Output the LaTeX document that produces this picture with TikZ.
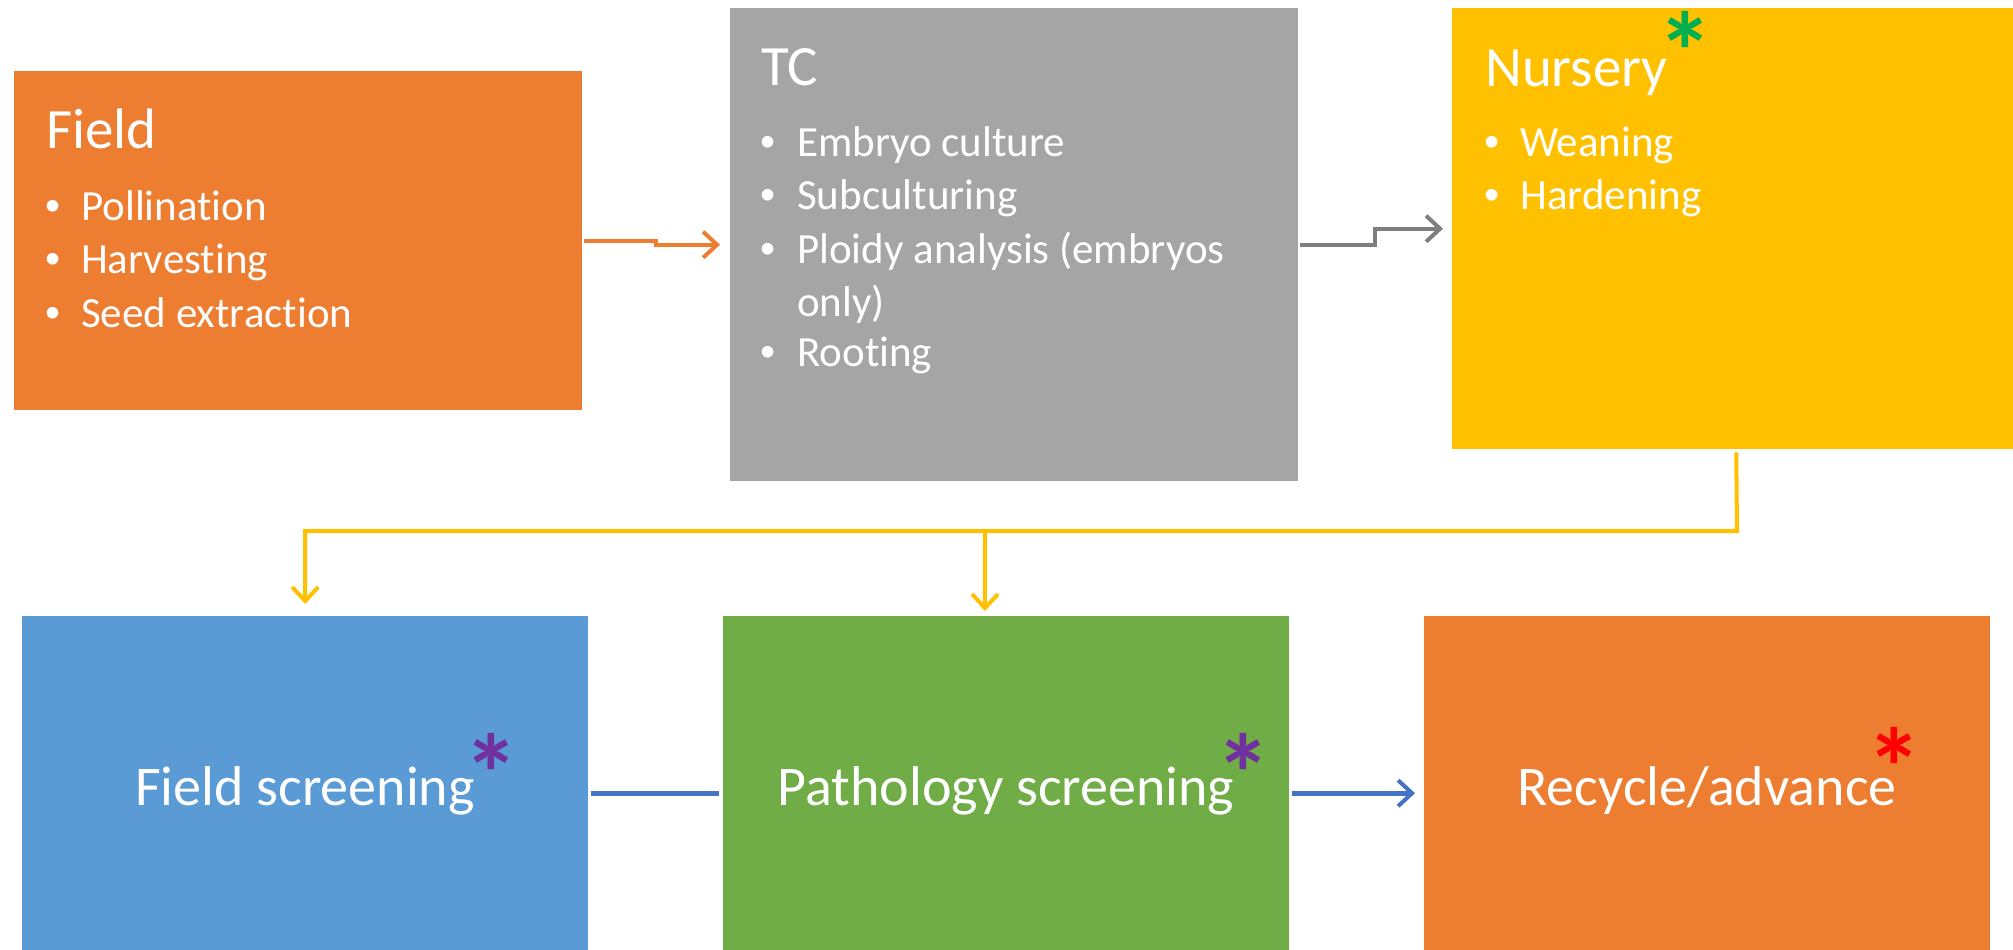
\documentclass[tikz,border=0pt]{standalone}
\usepackage{fontspec}
\setmainfont{Carlito}[Ligatures=NoCommon]
\newfontfamily\bulletfont{Liberation Sans}
\usetikzlibrary{arrows.meta,calc}
\definecolor{cOrange}{HTML}{ED7D31}
\definecolor{cGray}{HTML}{A5A5A5}
\definecolor{cGold}{HTML}{FFC000}
\definecolor{cBlue}{HTML}{5B9BD5}
\definecolor{cGreen}{HTML}{70AD47}
\definecolor{cDarkGray}{HTML}{7F7F7F}
\definecolor{cLineBlue}{HTML}{4472C4}
\definecolor{cStarGreen}{HTML}{00B050}
\definecolor{cStarPurple}{HTML}{7030A0}
\definecolor{cStarRed}{HTML}{FF0000}
\tikzset{
  box/.style={draw=none, anchor=north west, inner sep=0pt},
  title/.style={anchor=base west, inner sep=0pt, text=white, font=\fontsize{57}{68}\selectfont},
  item/.style={anchor=base west, inner sep=0pt, text=white, font=\fontsize{43}{52}\selectfont},
  bul/.style={anchor=base west, inner sep=0pt, text=white, font=\bulletfont\fontsize{43}{52}\selectfont},
  bigtext/.style={anchor=center, inner sep=0pt, text=white, font=\fontsize{56}{68}\selectfont},
  star/.style={anchor=center, inner sep=0pt, font=\bfseries\fontsize{112}{112}\selectfont},
  conn/.style={line width=4pt, -{Straight Barb[length=14pt,width=26pt,line width=4pt]}},
}
\begin{document}
\begin{tikzpicture}[x=1pt,y=-1pt]
\useasboundingbox (0,0) rectangle (2013,950);
% boxes
\node[box, fill=cOrange, minimum width=568pt, minimum height=339pt] (field) at (14,71) {};
\node[box, fill=cGray, minimum width=568pt, minimum height=473pt] (tc) at (730,8) {};
\node[box, fill=cGold, minimum width=568pt, minimum height=441pt] (nursery) at (1452,8) {};
\node[box, fill=cBlue, minimum width=566pt, minimum height=354pt] (fs) at (22,616) {};
\node[box, fill=cGreen, minimum width=566pt, minimum height=354pt] (path) at (723,616) {};
\node[box, fill=cOrange, minimum width=566pt, minimum height=354pt] (recycle) at (1424,616) {};
% Field text
\node[title] (fieldT) at (46,148) {Field};
\node[bul] (fb1) at (45,220) {•};
\node[item] (fi1) at (81,220) {Pollination};
\node[bul] (fb2) at (45,273) {•};
\node[item] (fi2) at (81,273) {Harvesting};
\node[bul] (fb3) at (45,327) {•};
\node[item] (fi3) at (81,327) {Seed extraction};
% TC text
\node[title] (tcT) at (761,85) {TC};
\node[bul] (tb1) at (760,156) {•};
\node[item] (ti1) at (797,156) {Embryo culture};
\node[bul] (tb2) at (760,209) {•};
\node[item] (ti2) at (797,209) {Subculturing};
\node[bul] (tb3) at (760,263) {•};
\node[item] (ti3) at (797,263) {Ploidy analysis (embryos};
\node[item] (ti3b) at (797,316) {only)};
\node[bul] (tb4) at (760,366) {•};
\node[item] (ti4) at (797,366) {Rooting};
% Nursery text
\node[title] (nT) at (1485,86) {Nursery};
\node[star, text=cStarGreen] (nS) at (1685,51) {*};
\node[bul] (nb1) at (1484,156) {•};
\node[item] (ni1) at (1520,156) {Weaning};
\node[bul] (nb2) at (1484,209) {•};
\node[item] (ni2) at (1520,209) {Hardening};
% bottom texts
\node[bigtext] (fsT) at (305,791) {Field screening};
\node[star, text=cStarPurple] (fsS) at (491,773) {*};
\node[bigtext] (pT) at (1006,791) {Pathology screening};
\node[star, text=cStarPurple] (pS) at (1243,773) {*};
\node[bigtext] (rT) at (1707,791) {Recycle/advance};
\node[star, text=cStarRed] (rS) at (1894,767) {*};
% connectors
\draw[conn, draw=cOrange, shorten <=2pt, shorten >=10pt]
  (field.east) -| ($(field.east)!0.5!(tc.west)$) |- (tc.west);
\draw[conn, draw=cDarkGray, shorten <=2pt, shorten >=9pt]
  (tc.east) -| ($(tc.east)!0.5!(nursery.west)$) |- (nursery.west);
\coordinate (ybend) at (1737,531);
\coordinate (ymid) at (985,531);
\draw[conn, draw=cGold, shorten <=3pt, shorten >=12pt]
  (nursery.south) -- (ybend) -| (fs.north);
\draw[conn, draw=cGold, shorten >=5pt] (ymid) -- (ymid |- path.north);
\draw[line width=5pt, draw=cLineBlue] ([xshift=3pt]fs.east) -- ([xshift=-4pt]path.west);
\draw[conn, line width=5pt, draw=cLineBlue, shorten <=3pt, shorten >=9pt] (path.east) -- (recycle.west);
\end{tikzpicture}
\end{document}
